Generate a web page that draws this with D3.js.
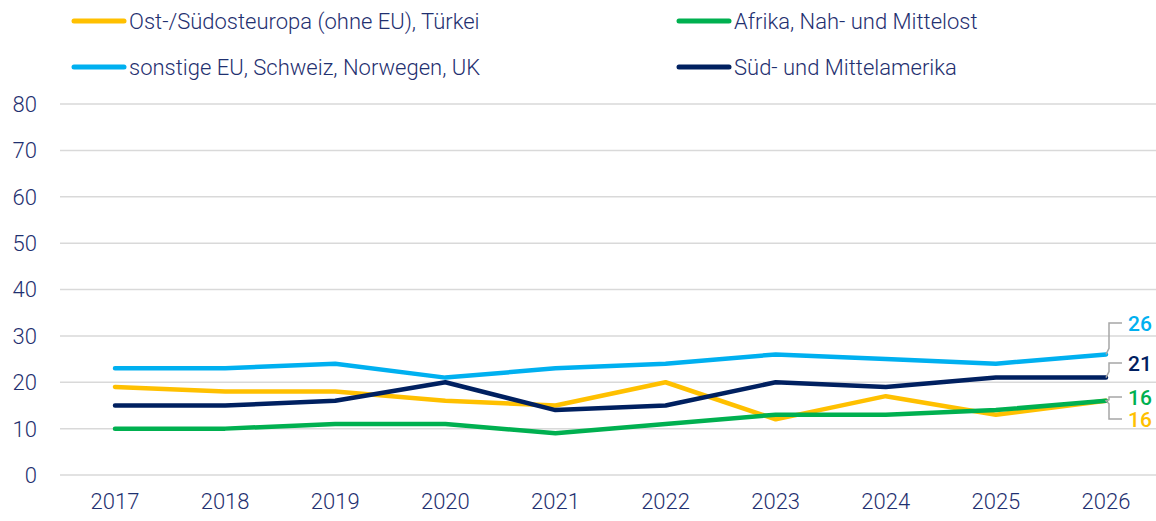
<!DOCTYPE html>
<html><head><meta charset="utf-8">
<script src="https://cdn.jsdelivr.net/npm/d3@7"></script>
<style>body{margin:0;background:#fff}svg{display:block}text{font-family:Roboto,"Liberation Sans",sans-serif}</style>
</head><body><svg id="c" width="1156" height="521"></svg>
<script>
const years = [2017,2018,2019,2020,2021,2022,2023,2024,2025,2026];
const ostSuedost = [19,18,18,16,15,20,12,17,13,16];
const afrika = [10,10,11,11,9,11,13,13,14,16];
const sonstigeEU = [23,23,24,21,23,24,26,25,24,26];
const suedMittel = [15,15,16,20,14,15,20,19,21,21];
const yTicks = [0,10,20,30,40,50,60,70,80];
const seriesNames = ["Ost-/Südosteuropa (ohne EU), Türkei","Afrika, Nah- und Mittelost","sonstige EU, Schweiz, Norwegen, UK","Süd- und Mittelamerika"];
const colors = ["#ffc000","#00b050","#00b0f0","#002060"];
const series = [ostSuedost, afrika, sonstigeEU, suedMittel];
const textColor = "#1f3070";

const svg = d3.select("#c");
const x = d3.scalePoint().domain(years).range([115,1106]);
const y = d3.scaleLinear().domain([0,80]).range([475,104]);

svg.append("g").selectAll("line").data(yTicks).join("line")
  .attr("x1",60).attr("x2",1156).attr("y1",d=>y(d)).attr("y2",d=>y(d))
  .attr("stroke","#d9d9d9").attr("stroke-width",1.5);
svg.append("g").selectAll("text").data(yTicks).join("text")
  .attr("x",37).attr("y",d=>y(d)).attr("dy","0.36em").attr("text-anchor","end")
  .attr("font-size",22).attr("font-weight",300).attr("fill",textColor).text(d=>d);
svg.append("g").selectAll("text").data(years).join("text")
  .attr("x",d=>x(d)).attr("y",509).attr("text-anchor","middle")
  .attr("font-size",22).attr("font-weight",300).attr("fill",textColor).text(d=>d);

const line = d3.line().x((d,i)=>x(years[i])).y(d=>y(d));
[0,1,2,3].forEach(k=>{
  svg.append("path").datum(series[k]).attr("d",line).attr("fill","none")
    .attr("stroke",colors[k]).attr("stroke-width",4.5).attr("stroke-linecap","round").attr("stroke-linejoin","round");
});

const legPos = [[74,21],[679,21],[74,67],[679,67]];
seriesNames.forEach((n,k)=>{
  const [lx,ly]=legPos[k];
  svg.append("line").attr("x1",lx).attr("x2",lx+50).attr("y1",ly).attr("y2",ly)
    .attr("stroke",colors[k]).attr("stroke-width",5).attr("stroke-linecap","round");
  svg.append("text").attr("x",lx+55).attr("y",ly).attr("dy","0.36em")
    .attr("font-size",22).attr("font-weight",300).attr("fill",textColor).text(n);
});

const last = years.length-1;
const xe = x(years[last]);
const labelDefs = [
  {k:2, ly:323},
  {k:3, ly:363},
  {k:1, ly:397},
  {k:0, ly:419}
];
const bc = "#a6a6a6";
[labelDefs[0],labelDefs[1]].forEach(L=>{
  const py = y(series[L.k][last]);
  svg.append("path").attr("d",`M${xe},${py} L${xe+3},${py-6} L${xe+3},${L.ly} L${xe+16},${L.ly}`)
    .attr("fill","none").attr("stroke",bc).attr("stroke-width",1.5);
});
{
  const py = y(series[1][last]);
  svg.append("path").attr("d",`M${xe+16},${labelDefs[2].ly} L${xe+3},${labelDefs[2].ly} L${xe+3},${py-1} L${xe},${py} L${xe+3},${py+3} L${xe+3},${labelDefs[3].ly} L${xe+16},${labelDefs[3].ly}`)
    .attr("fill","none").attr("stroke",bc).attr("stroke-width",1.5);
}
labelDefs.forEach(L=>{
  svg.append("text").attr("x",xe+22).attr("y",L.ly).attr("dy","0.36em")
    .attr("font-size",21).attr("font-weight",500).attr("fill",colors[L.k])
    .text(series[L.k][last]);
});
</script></body></html>
